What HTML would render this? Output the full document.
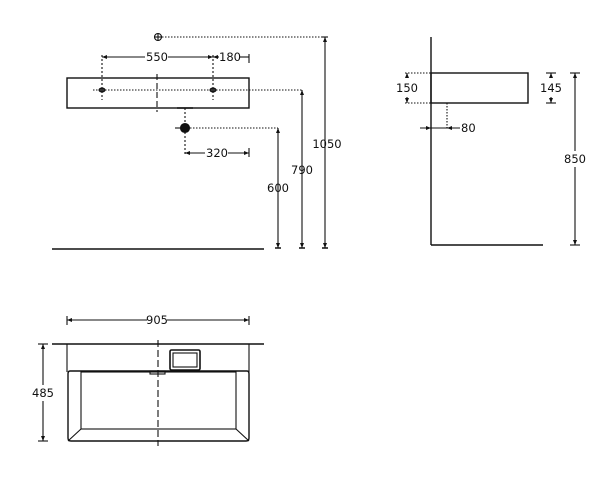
<!DOCTYPE html>
<html><head><style>
html,body{margin:0;padding:0;background:#fff;}
svg{display:block;}
text{font-family:"DejaVu Sans","Liberation Sans",sans-serif;font-size:11.5px;fill:#111;}
</style></head><body>
<svg width="616" height="478" viewBox="0 0 616 478" xmlns="http://www.w3.org/2000/svg">
<g stroke="#111" stroke-width="1.1" fill="none">
<!-- front view -->
<circle cx="158" cy="37" r="3.5"/>
<line x1="154" y1="37" x2="162" y2="37"/><line x1="158" y1="33" x2="158" y2="41"/>
<line x1="162" y1="37" x2="325" y2="37" stroke-dasharray="1.5,1.5"/>
<line x1="322" y1="37" x2="328" y2="37"/>
<line x1="325" y1="37" x2="325" y2="248"/>
<line x1="322" y1="248" x2="328" y2="248" stroke-width="1.5"/>
<rect x="67" y="78" width="182" height="30" stroke-width="1.4"/>
<line x1="157" y1="74" x2="157" y2="112" stroke-dasharray="6,3"/>
<line x1="93" y1="90" x2="302" y2="90" stroke-dasharray="1.5,1.5"/>
<ellipse cx="102" cy="90" rx="3" ry="2" fill="#333"/>
<ellipse cx="213" cy="90" rx="3" ry="2" fill="#333"/>
<line x1="102" y1="55" x2="102" y2="100" stroke-dasharray="2,2"/>
<line x1="213" y1="55" x2="213" y2="100" stroke-dasharray="2,2"/>
<line x1="102" y1="57" x2="145" y2="57"/><line x1="168" y1="57" x2="213" y2="57"/>
<line x1="213" y1="57" x2="219" y2="57"/><line x1="240" y1="57" x2="249" y2="57"/>
<line x1="249" y1="54" x2="249" y2="63"/>
<line x1="302" y1="90" x2="302" y2="248"/>
<line x1="299" y1="248" x2="305" y2="248" stroke-width="1.5"/>
<line x1="177" y1="108" x2="193" y2="108" stroke-width="1.5"/>
<line x1="185" y1="108" x2="185" y2="155" stroke-dasharray="2,2"/>
<circle cx="185" cy="128" r="4.5" fill="#111"/>
<line x1="175" y1="128" x2="180" y2="128"/>
<line x1="190" y1="128" x2="278" y2="128" stroke-dasharray="1.5,1.5"/>
<line x1="278" y1="128" x2="278" y2="248"/>
<line x1="275" y1="248" x2="281" y2="248" stroke-width="1.5"/>
<line x1="185" y1="153" x2="205" y2="153"/><line x1="228" y1="153" x2="249" y2="153"/>
<line x1="249" y1="148" x2="249" y2="157"/>
<line x1="52" y1="249" x2="264" y2="249" stroke-width="1.4"/>
<!-- side view -->
<line x1="431" y1="37" x2="431" y2="245" stroke-width="1.4"/>
<line x1="431" y1="245" x2="543" y2="245" stroke-width="1.4"/>
<rect x="431" y="73" width="97" height="30" stroke-width="1.4"/>
<line x1="405" y1="73" x2="431" y2="73" stroke-dasharray="1.5,1.5"/>
<line x1="405" y1="103" x2="431" y2="103" stroke-dasharray="1.5,1.5"/>
<line x1="407" y1="73" x2="407" y2="78"/><line x1="407" y1="97" x2="407" y2="103"/>
<line x1="447" y1="103" x2="447" y2="128" stroke-dasharray="1.5,1.5"/>
<line x1="420" y1="128" x2="460" y2="128"/>
<line x1="546" y1="73" x2="556" y2="73"/><line x1="546" y1="103" x2="556" y2="103"/>
<line x1="551" y1="73" x2="551" y2="78"/><line x1="551" y1="97" x2="551" y2="103"/>
<line x1="570" y1="73" x2="580" y2="73"/><line x1="570" y1="245" x2="580" y2="245"/>
<line x1="575" y1="73" x2="575" y2="151"/><line x1="575" y1="167" x2="575" y2="245"/>
<!-- top view -->
<line x1="67" y1="316" x2="67" y2="325"/><line x1="249" y1="316" x2="249" y2="325"/>
<line x1="67" y1="320" x2="147" y2="320"/><line x1="167" y1="320" x2="249" y2="320"/>
<line x1="52" y1="344" x2="264" y2="344" stroke-width="1.4"/>
<line x1="67" y1="344" x2="67" y2="372"/><line x1="249" y1="344" x2="249" y2="372"/>
<path d="M70 371 L247 371 Q249 371 249 374 L249 438 Q249 441 246 441 L71 441 Q68 441 68 438 L68 374 Q68 371 70 371 Z" stroke-width="1.4"/>
<rect x="81" y="372" width="155" height="57"/>
<line x1="68" y1="441" x2="81" y2="429"/><line x1="249" y1="441" x2="236" y2="429"/>
<rect x="170" y="350" width="30" height="20" rx="1.5" stroke-width="1.6"/>
<rect x="173" y="353" width="24" height="14"/>
<rect x="150" y="371" width="15" height="3"/>
<line x1="158" y1="340" x2="158" y2="446" stroke-dasharray="7,3"/>
<line x1="38" y1="344" x2="48" y2="344"/><line x1="38" y1="441" x2="48" y2="441"/>
<line x1="43" y1="344" x2="43" y2="385"/><line x1="43" y1="401" x2="43" y2="441"/>
</g>
<g fill="#111">
<path d="M102 57 l5 -2 v4z M213 57 l-5 -2 v4z M213 57 l5 -2 v4z M325 37 l-2 5 h4z M325 248 l-2 -5 h4z M302 90 l-2 5 h4z M302 248 l-2 -5 h4z M278 128 l-2 5 h4z M278 248 l-2 -5 h4z M185 153 l5 -2 v4z M249 153 l-5 -2 v4z"/>
<path d="M407 73 l-2 5 h4z M407 103 l-2 -5 h4z M551 73 l-2 5 h4z M551 103 l-2 -5 h4z M575 73 l-2 5 h4z M575 245 l-2 -5 h4z M431 128 l-5 -2 v4z M447 128 l5 -2 v4z"/>
<path d="M67 320 l5 -2 v4z M249 320 l-5 -2 v4z M43 344 l-2 5 h4z M43 441 l-2 -5 h4z"/>
</g>
<text x="157" y="61" text-anchor="middle">550</text>
<text x="230" y="61" text-anchor="middle">180</text>
<text x="217" y="157" text-anchor="middle">320</text>
<text x="327" y="148" text-anchor="middle">1050</text>
<text x="302" y="174" text-anchor="middle">790</text>
<text x="278" y="192" text-anchor="middle">600</text>
<text x="407" y="92" text-anchor="middle">150</text>
<text x="551" y="92" text-anchor="middle">145</text>
<text x="575" y="163" text-anchor="middle">850</text>
<text x="461" y="132">80</text>
<text x="157" y="324" text-anchor="middle">905</text>
<text x="43" y="397" text-anchor="middle">485</text>
</svg>
</body></html>
